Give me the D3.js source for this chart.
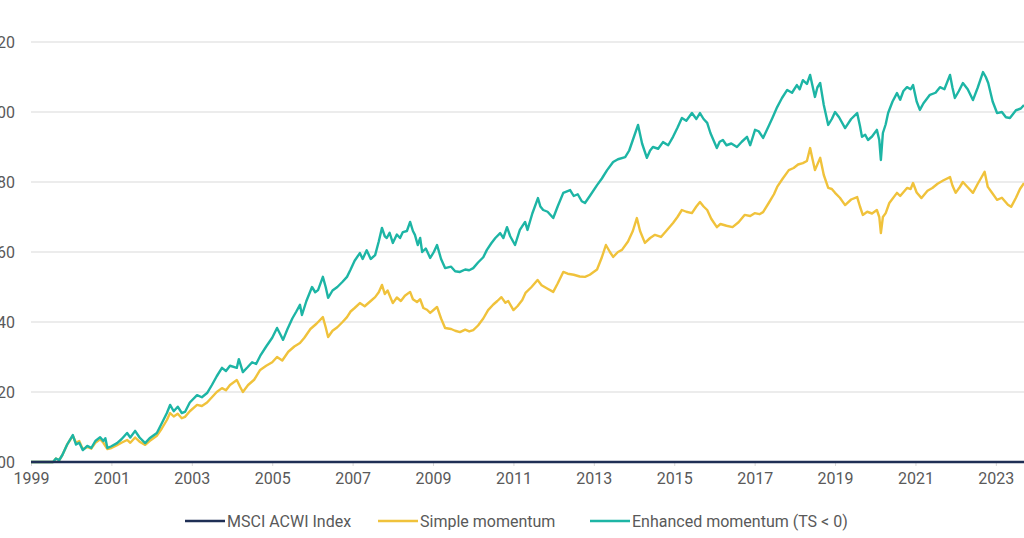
<!DOCTYPE html>
<html>
<head>
<meta charset="utf-8">
<script src="https://cdn.jsdelivr.net/npm/d3@7"></script>
<style>
  html, body { margin: 0; padding: 0; background: #fff; }
  svg { display: block; font-family: "Roboto", "Liberation Sans", sans-serif; }
</style>
</head>
<body>
<div id="chart"></div>
<script>
// ---- data (decimal years, index level) ----
var msciDates = [1999, 2023.7];
var msciValues = [100, 100];

var enhancedDates = [1999.0, 1999.55, 1999.62, 1999.7, 1999.78, 1999.9, 2000.04, 2000.12, 2000.2, 2000.29, 2000.4, 2000.5, 2000.6, 2000.72, 2000.8, 2000.85, 2000.9, 2001.0, 2001.14, 2001.25, 2001.39, 2001.47, 2001.59, 2001.7, 2001.84, 2001.95, 2002.13, 2002.25, 2002.38, 2002.46, 2002.55, 2002.65, 2002.75, 2002.83, 2002.95, 2003.13, 2003.25, 2003.38, 2003.5, 2003.62, 2003.75, 2003.85, 2003.95, 2004.12, 2004.17, 2004.27, 2004.38, 2004.5, 2004.6, 2004.7, 2004.85, 2005.0, 2005.12, 2005.2, 2005.27, 2005.38, 2005.5, 2005.6, 2005.69, 2005.74, 2005.85, 2005.99, 2006.07, 2006.14, 2006.26, 2006.33, 2006.39, 2006.5, 2006.62, 2006.75, 2006.86, 2006.95, 2007.05, 2007.18, 2007.25, 2007.35, 2007.45, 2007.56, 2007.65, 2007.73, 2007.8, 2007.85, 2007.92, 2008.0, 2008.1, 2008.18, 2008.25, 2008.35, 2008.43, 2008.5, 2008.55, 2008.62, 2008.68, 2008.73, 2008.82, 2008.93, 2009.02, 2009.1, 2009.2, 2009.3, 2009.45, 2009.55, 2009.67, 2009.8, 2009.9, 2010.0, 2010.12, 2010.25, 2010.34, 2010.45, 2010.55, 2010.67, 2010.75, 2010.84, 2010.92, 2011.04, 2011.16, 2011.29, 2011.35, 2011.47, 2011.61, 2011.67, 2011.74, 2011.85, 2011.99, 2012.1, 2012.24, 2012.41, 2012.5, 2012.6, 2012.7, 2012.78, 2012.9, 2013.08, 2013.2, 2013.33, 2013.48, 2013.6, 2013.78, 2013.88, 2013.97, 2014.1, 2014.2, 2014.32, 2014.4, 2014.47, 2014.6, 2014.72, 2014.85, 2014.97, 2015.08, 2015.19, 2015.3, 2015.44, 2015.55, 2015.64, 2015.73, 2015.82, 2015.9, 2016.06, 2016.13, 2016.21, 2016.3, 2016.42, 2016.56, 2016.68, 2016.81, 2016.89, 2017.01, 2017.1, 2017.21, 2017.35, 2017.45, 2017.56, 2017.68, 2017.81, 2017.93, 2018.05, 2018.12, 2018.2, 2018.3, 2018.38, 2018.5, 2018.56, 2018.63, 2018.72, 2018.83, 2018.92, 2019.0, 2019.1, 2019.25, 2019.4, 2019.55, 2019.62, 2019.67, 2019.75, 2019.82, 2019.92, 2020.04, 2020.1, 2020.14, 2020.19, 2020.26, 2020.32, 2020.43, 2020.54, 2020.62, 2020.7, 2020.79, 2020.88, 2020.94, 2021.03, 2021.11, 2021.2, 2021.36, 2021.5, 2021.61, 2021.72, 2021.86, 2021.92, 2021.98, 2022.08, 2022.18, 2022.3, 2022.43, 2022.55, 2022.68, 2022.75, 2022.81, 2022.92, 2023.03, 2023.15, 2023.25, 2023.35, 2023.5, 2023.62, 2023.7];
var enhancedValues = [100, 100, 101, 100.5, 102, 105, 107.7, 105, 105.5, 103.4, 104.6, 104, 106, 107.1, 106, 106.8, 104, 104.5, 105.4, 106.5, 108.3, 107, 108.9, 107, 105.4, 106.8, 108.3, 111, 114, 116.3, 114.5, 115.8, 114, 114.3, 117, 119.1, 118.5, 119.7, 122, 124.5, 126.9, 126, 127.5, 126.9, 129.4, 125.7, 127, 128.5, 128, 130.3, 133, 135.5, 138.3, 136.5, 134.9, 138, 141, 143, 144.9, 142, 146, 150, 148.5, 149.1, 152.9, 150, 146.9, 149, 150, 151.5, 152.9, 155, 157.5, 159.7, 158, 160.5, 158, 159.1, 163, 166.9, 164.5, 164, 165.5, 162.6, 165, 164, 165.7, 166, 168.6, 166, 164.9, 162, 164, 160, 161, 158.3, 160, 162, 158, 155.4, 155.8, 154.5, 154.3, 155, 154.8, 155.4, 157, 158.5, 160.6, 162.5, 164, 165.4, 164, 167.1, 164.5, 162, 166.3, 168.6, 166.3, 171, 175.4, 173, 172, 171.5, 169.7, 173, 176.9, 177.7, 176, 176.5, 174.5, 174, 176, 179.1, 181, 183.4, 185.7, 186.5, 187.1, 189, 192, 196.3, 191, 186.9, 189, 190, 189.5, 191.4, 190.5, 192.9, 195.5, 198.3, 197.5, 199.7, 198, 199.7, 198, 196.9, 194, 189.7, 191.5, 192, 190.5, 191, 190, 191.5, 192.9, 190.5, 194.9, 194.5, 192.6, 196, 198.5, 201.4, 204, 206.3, 205.5, 207.7, 206.5, 209.1, 208, 210.6, 204.3, 207, 208.3, 202, 196.3, 198, 200, 198.5, 195.4, 198, 199.7, 196, 192.9, 193.5, 192, 193, 194.9, 192, 186.3, 194, 196.5, 199.7, 203, 205.4, 203.5, 206, 207.1, 206.5, 207.7, 203, 200.6, 202.5, 204.9, 205.5, 207.1, 206.5, 210.6, 207, 204, 206, 208.3, 206.5, 203.4, 207, 211.4, 210, 208.3, 203, 199.7, 200, 198.5, 198.3, 200.5, 201, 202];

var simpleDates = [1999.0, 1999.55, 1999.62, 1999.7, 1999.78, 1999.9, 2000.04, 2000.12, 2000.2, 2000.29, 2000.4, 2000.5, 2000.6, 2000.72, 2000.8, 2000.9, 2001.0, 2001.14, 2001.25, 2001.39, 2001.47, 2001.59, 2001.7, 2001.84, 2001.95, 2002.13, 2002.25, 2002.38, 2002.46, 2002.55, 2002.65, 2002.75, 2002.83, 2002.95, 2003.13, 2003.25, 2003.38, 2003.5, 2003.62, 2003.75, 2003.85, 2003.95, 2004.12, 2004.2, 2004.27, 2004.4, 2004.55, 2004.7, 2004.85, 2005.0, 2005.12, 2005.25, 2005.4, 2005.55, 2005.69, 2005.8, 2005.95, 2006.1, 2006.26, 2006.33, 2006.39, 2006.5, 2006.62, 2006.75, 2006.86, 2006.95, 2007.05, 2007.18, 2007.3, 2007.45, 2007.56, 2007.65, 2007.73, 2007.8, 2007.87, 2008.0, 2008.1, 2008.2, 2008.3, 2008.43, 2008.5, 2008.6, 2008.68, 2008.76, 2008.85, 2008.93, 2009.02, 2009.1, 2009.2, 2009.3, 2009.45, 2009.55, 2009.67, 2009.8, 2009.9, 2010.0, 2010.12, 2010.25, 2010.37, 2010.5, 2010.6, 2010.7, 2010.8, 2010.87, 2011.0, 2011.1, 2011.22, 2011.3, 2011.45, 2011.6, 2011.7, 2011.85, 2011.99, 2012.1, 2012.24, 2012.35, 2012.5, 2012.65, 2012.78, 2012.9, 2013.08, 2013.2, 2013.3, 2013.4, 2013.48, 2013.6, 2013.7, 2013.85, 2013.97, 2014.07, 2014.15, 2014.27, 2014.4, 2014.52, 2014.67, 2014.8, 2014.97, 2015.08, 2015.19, 2015.3, 2015.44, 2015.55, 2015.64, 2015.73, 2015.82, 2015.92, 2016.06, 2016.15, 2016.3, 2016.45, 2016.6, 2016.75, 2016.89, 2017.0, 2017.12, 2017.21, 2017.35, 2017.48, 2017.56, 2017.7, 2017.85, 2017.97, 2018.08, 2018.2, 2018.3, 2018.38, 2018.44, 2018.5, 2018.63, 2018.72, 2018.83, 2018.92, 2019.0, 2019.12, 2019.25, 2019.4, 2019.55, 2019.62, 2019.69, 2019.8, 2019.92, 2020.04, 2020.1, 2020.14, 2020.19, 2020.26, 2020.35, 2020.54, 2020.62, 2020.79, 2020.88, 2020.94, 2021.03, 2021.15, 2021.3, 2021.42, 2021.55, 2021.7, 2021.86, 2021.92, 2022.0, 2022.1, 2022.18, 2022.3, 2022.43, 2022.55, 2022.65, 2022.72, 2022.8, 2022.9, 2023.03, 2023.15, 2023.3, 2023.38, 2023.5, 2023.6, 2023.7];
var simpleValues = [100, 100, 101, 100.5, 102, 105, 107.5, 105.5, 106, 103.6, 104.3, 103.8, 105.5, 106.5, 105.5, 103.7, 104, 104.8, 105.5, 106.3, 105.5, 107, 105.8, 104.9, 106, 107.5, 109.5, 112, 114, 113, 113.8, 112.5, 112.9, 114.5, 116.3, 116, 117, 118.5, 120, 121.1, 120.5, 122, 123.4, 121.5, 120, 122, 123.5, 126.3, 127.5, 128.5, 130, 129, 131.5, 133, 134, 135.5, 138, 139.5, 141.4, 138.5, 135.7, 137.5, 138.5, 140, 141.4, 143, 144, 145.4, 144.5, 146, 147.1, 148.5, 150.6, 148, 149, 145.4, 147, 146, 147.5, 148.6, 146.5, 145.7, 146.5, 144, 143.5, 142.6, 143.5, 144.3, 141, 138.3, 138, 137.5, 137.1, 137.8, 137.3, 137.7, 139, 141, 143.4, 145, 146, 147.1, 145.5, 146, 143.4, 144.5, 146.3, 148.3, 150, 152, 150.5, 149.5, 148.6, 151, 154.3, 153.8, 153.5, 153, 152.9, 153.5, 155, 158.5, 162, 160, 158.6, 160, 160.6, 163, 166, 169.7, 166, 162.6, 164, 164.9, 164.3, 166, 168.3, 170, 172, 171.5, 171.1, 173, 174.3, 173, 172, 169.5, 167.1, 168, 167.5, 167.1, 168.5, 170.6, 170.3, 171.1, 170.8, 171.4, 174, 176.5, 178.6, 181, 183.4, 184, 185, 185.4, 186, 189.7, 186.5, 183.4, 186.9, 182, 178.3, 178, 176.9, 175.5, 173.4, 175, 175.7, 173, 170.6, 171.5, 171, 172, 170, 165.4, 170, 171.1, 174, 176.9, 176, 178.3, 178, 179.7, 177, 175.4, 177.5, 178.3, 179.5, 180.5, 181.4, 179, 176.9, 178.5, 180, 178.5, 176.9, 179.5, 181.5, 182.9, 178.6, 177, 174.9, 175.5, 173.5, 172.9, 175.5, 178, 179.7];

var yTicks = [100, 120, 140, 160, 180, 200, 220];
var xTicks = [1999, 2001, 2003, 2005, 2007, 2009, 2011, 2013, 2015, 2017, 2019, 2021, 2023];
var seriesNames = ["MSCI ACWI Index", "Simple momentum", "Enhanced momentum (TS < 0)"];
var seriesColors = ["#1f2f55", "#f0c23b", "#1db5a5"];

// ---- layout ----
var W = 1024, H = 538;
var x = d3.scaleLinear().domain([1999, 2023.7]).range([31, 1024]);
var y = d3.scaleLinear().domain([100, 220]).range([462, 42]);

var svg = d3.select("#chart").append("svg")
  .attr("width", W)
  .attr("height", H);

// gridlines
svg.append("g")
  .selectAll("line")
  .data(yTicks)
  .join("line")
  .attr("x1", x(1999))
  .attr("x2", W)
  .attr("y1", d => y(d))
  .attr("y2", d => y(d))
  .attr("stroke", "#d9d9d9")
  .attr("stroke-width", 1);

// y labels (the original image is cropped at its left edge)
svg.append("g")
  .selectAll("text")
  .data(yTicks)
  .join("text")
  .attr("x", 15)
  .attr("y", d => y(d))
  .attr("dy", "0.35em")
  .attr("text-anchor", "end")
  .attr("fill", "#595959")
  .style("font-size", "16px")
  .text(d => d);

// x axis
var xAxis = svg.append("g")
  .attr("transform", "translate(0," + y(100) + ")")
  .call(d3.axisBottom(x).tickValues(xTicks).tickFormat(d3.format("d")).tickSize(4));
xAxis.select(".domain").remove();
xAxis.selectAll(".tick line").attr("stroke", "#d9d9d9");
xAxis.selectAll(".tick text")
  .attr("fill", "#595959")
  .attr("dy", "0.95em")
  .style("font-size", "16px")
  .style("font-family", "Roboto, sans-serif");

function makeLine(dates, values) {
  return d3.line()
    .x((d, i) => x(dates[i]))
    .y(d => y(d))(values);
}

var plot = svg.append("g");

plot.append("path")
  .attr("d", makeLine(simpleDates, simpleValues))
  .attr("fill", "none")
  .attr("stroke", seriesColors[1])
  .attr("stroke-width", 2.4)
  .attr("stroke-linejoin", "round");

plot.append("path")
  .attr("d", makeLine(enhancedDates, enhancedValues))
  .attr("fill", "none")
  .attr("stroke", seriesColors[2])
  .attr("stroke-width", 2.4)
  .attr("stroke-linejoin", "round");

plot.append("path")
  .attr("d", makeLine(msciDates, msciValues))
  .attr("fill", "none")
  .attr("stroke", seriesColors[0])
  .attr("stroke-width", 2.4);

// legend
var legendX = [185, 378, 590];
var legend = svg.append("g")
  .selectAll("g")
  .data(seriesNames)
  .join("g")
  .attr("transform", (d, i) => "translate(" + legendX[i] + ",521)");

legend.append("line")
  .attr("x1", 0)
  .attr("x2", 40)
  .attr("stroke", (d, i) => seriesColors[i])
  .attr("stroke-width", 2.4);

legend.append("text")
  .attr("x", 42)
  .attr("dy", "0.35em")
  .attr("fill", "#595959")
  .style("font-size", "16px")
  .text(d => d);
</script>
</body>
</html>
